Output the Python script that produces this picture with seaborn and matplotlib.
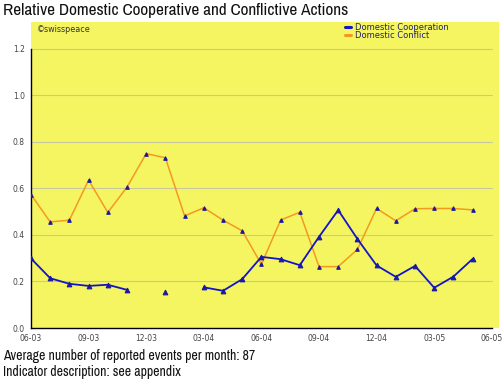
import numpy as np
import pandas as pd
import matplotlib
matplotlib.use("Agg")
import matplotlib.pyplot as plt
from matplotlib.lines import Line2D
from matplotlib.ticker import MultipleLocator, FixedLocator
from matplotlib import font_manager
import seaborn as sns

# ---- data ----
month_labels = ["06-03", "09-03", "12-03", "03-04", "06-04", "09-04", "12-04", "03-05", "06-05"]
months = list(range(24))
cooperation = [0.299, 0.214, 0.190, 0.181, 0.186, 0.164, np.nan, 0.155, np.nan, 0.175,
               0.160, 0.210, 0.306, 0.296, 0.270, 0.392, 0.507, 0.383, 0.269, 0.220,
               0.267, 0.173, 0.221, 0.297]
conflict = [0.574, 0.456, 0.464, 0.636, 0.497, 0.606, 0.750, 0.732, 0.482, 0.517,
            0.464, 0.418, 0.274, 0.464, 0.498, 0.264, 0.264, 0.338, 0.514, 0.461,
            0.513, 0.514, 0.514, 0.508]
series_names = ["Domestic Cooperation", "Domestic Conflict"]
title = "Relative Domestic Cooperative and Conflictive Actions"
footer = ["Average number of reported events per month: 87", "Indicator description: see appendix"]

YELLOW = "#F5F562"
BLUE = "#1414C8"
ORANGE = "#F39A1E"
NAVY = "#1A1A9A"

sns.set_style("white")
plt.rcParams["font.family"] = ["DejaVu Sans"]

narrow_file = None
for f in font_manager.fontManager.ttflist:
    if "Narrow" in f.name and f.style == "normal" and f.weight in (400, "normal", "regular"):
        narrow_file = f.fname
        break

fig = plt.figure(figsize=(5.04, 3.81), dpi=100)
ax = fig.add_axes([31 / 504, 1 - 328 / 381, (499 - 31) / 504, (328 - 22) / 381])
ax.set_facecolor(YELLOW)

df = pd.DataFrame({"month": months, "coop": cooperation, "conf": conflict})

for v in np.arange(0.2, 1.21, 0.2):
    ax.plot([0, 24], [v, v], color="#C8C8A0", lw=0.8, zorder=1)

def segments(col):
    valid = ~df[col].isna()
    seg_id = df[col].isna().cumsum()
    return [g for _, g in df[valid].groupby(seg_id[valid])]

for g in segments("conf"):
    sns.lineplot(data=g, x="month", y="conf", ax=ax, color=ORANGE, lw=1.1,
                 marker="^", markersize=2.6, markerfacecolor=NAVY, markeredgecolor=NAVY,
                 estimator=None, zorder=3)
for g in segments("coop"):
    sns.lineplot(data=g, x="month", y="coop", ax=ax, color=BLUE, lw=1.3,
                 marker="^", markersize=3.4, markerfacecolor=BLUE, markeredgecolor=NAVY,
                 estimator=None, zorder=4)

ax.set_xlim(0, 24.375)
ax.set_ylim(0, 1.316)
ax.set_xlabel("")
ax.set_ylabel("")

for s in ["top", "right"]:
    ax.spines[s].set_visible(False)
for s in ["left", "bottom"]:
    ax.spines[s].set_color("black")
    ax.spines[s].set_linewidth(1.0)
ax.spines["left"].set_bounds(0, 1.2)
ax.spines["bottom"].set_bounds(0, 24)

ax.xaxis.set_major_locator(FixedLocator(list(range(0, 25, 3))))
ax.set_xticklabels(month_labels)
ax.xaxis.set_minor_locator(MultipleLocator(1))
ax.yaxis.set_major_locator(FixedLocator([0.0, 0.2, 0.4, 0.6, 0.8, 1.0, 1.2]))
ax.set_yticklabels(["0.0", "0.2", "0.4", "0.6", "0.8", "1.0", "1.2"])
ax.yaxis.set_minor_locator(FixedLocator([0.1, 0.3, 0.5, 0.7, 0.9, 1.1]))
ax.tick_params(axis="both", which="both", direction="out", color="black", width=0.8,
               labelsize=5.5, labelcolor="#444444", pad=1.5)
ax.tick_params(axis="both", which="both", length=3.0)

if narrow_file:
    tprops = dict(fontproperties=font_manager.FontProperties(fname=narrow_file, size=12.4))
    fprops = dict(fontproperties=font_manager.FontProperties(fname=narrow_file, size=9.9))
else:
    tprops = dict(fontsize=9.2, family=["Liberation Sans", "DejaVu Sans"])
    fprops = dict(fontsize=7.4, family=["Liberation Sans", "DejaVu Sans"])

fig.text(3 / 504, 1 - 11 / 381, title, va="center", ha="left", color="#111111", **tprops)
fig.text(37 / 504, 1 - 29 / 381, "\u00a9swisspeace", fontsize=5.8, va="center", ha="left",
         color="#333333")

handles = [Line2D([0], [0], color=BLUE, lw=2.2), Line2D([0], [0], color=ORANGE, lw=2.2)]
leg = fig.legend(handles, series_names, loc="upper left", bbox_to_anchor=(344 / 504, 1 - 22 / 381),
                 frameon=False, fontsize=6.0, handlelength=0.7, handletextpad=0.5,
                 labelspacing=-0.15, borderaxespad=0, borderpad=0.1)
for t in leg.get_texts():
    t.set_color("#222266")

fig.text(3 / 504, 1 - 356 / 381, footer[0], va="center", ha="left", color="#111111", **fprops)
fig.text(3 / 504, 1 - 372 / 381, footer[1], va="center", ha="left", color="#111111", **fprops)

fig.savefig("out.png", dpi=100, facecolor="white")
